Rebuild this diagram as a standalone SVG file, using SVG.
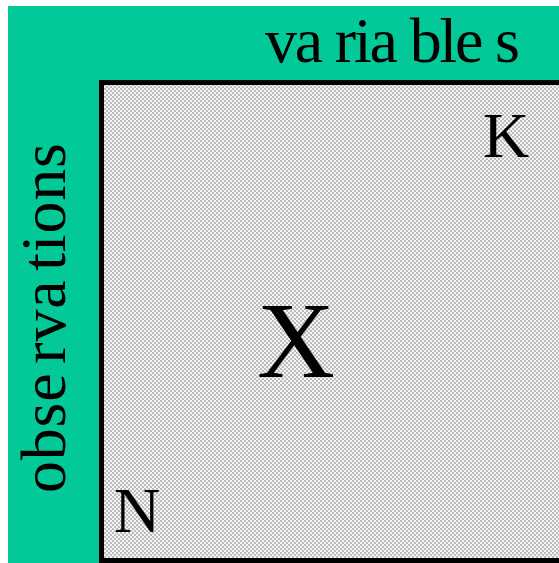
<svg xmlns="http://www.w3.org/2000/svg" width="559" height="563" viewBox="0 0 559 563">
<style>
.lbl{font-family:"Liberation Serif","Times New Roman",serif;fill:#000}
</style>
<defs>
<pattern id="chk" width="4" height="4" patternUnits="userSpaceOnUse">
<rect width="4" height="4" fill="#f4f4f4"/>
<rect x="0" y="0" width="2" height="2" fill="#bcbcbc"/>
<rect x="2" y="2" width="2" height="2" fill="#bcbcbc"/>
</pattern>
</defs>
<rect width="559" height="563" fill="#fff"/>
<g id="background">
<rect x="8" y="6" width="551" height="557" fill="#03C999"/>
</g>
<g id="matrix">
<rect x="101.5" y="82.5" width="500" height="478" fill="url(#chk)" stroke="#000" stroke-width="5"/>
<text class="lbl" x="296" y="377" font-size="108" text-anchor="middle">X</text>
<text class="lbl" x="483" y="157" font-size="64">K</text>
<text class="lbl" x="114" y="532" font-size="64">N</text>
</g>
<g id="variables">
<text class="lbl" x="265" y="62" font-size="64" textLength="255" lengthAdjust="spacing">va ria ble s</text>
</g>
<g id="observations">
<text class="lbl" transform="translate(65,493) rotate(-90)" x="0" y="0" font-size="64" word-spacing="-8" textLength="350" lengthAdjust="spacing">obse rva tions</text>
</g>
<g id="connectors"></g>
</svg>
